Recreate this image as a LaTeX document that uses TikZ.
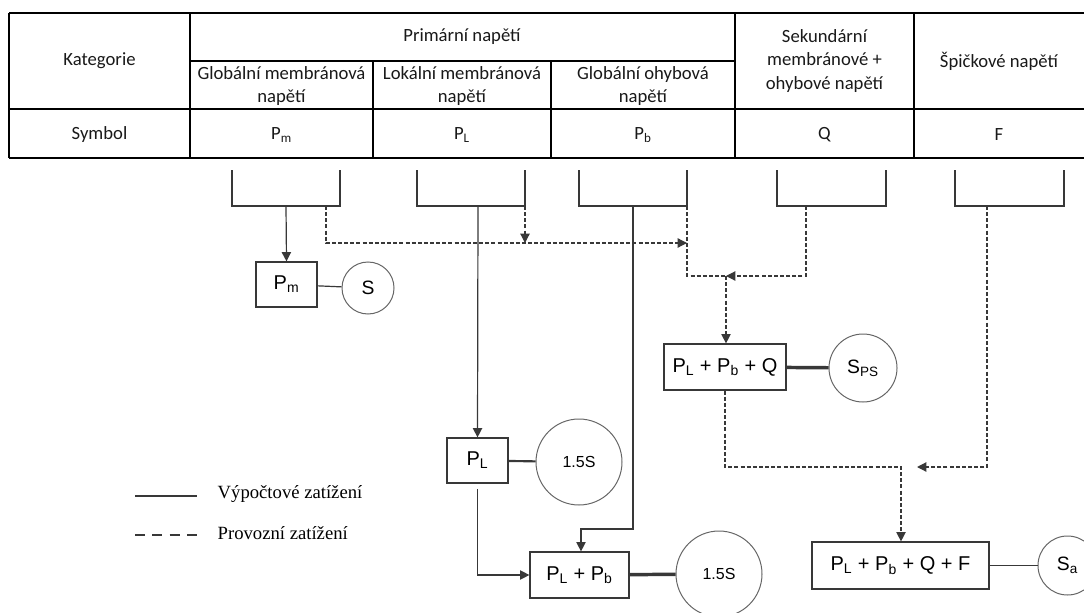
\documentclass[tikz,border=0pt]{standalone}
\usepackage{fontspec}
\newfontfamily\tabfont{Carlito}
\newfontfamily\boxfont{Liberation Sans}
\newfontfamily\legfont{Liberation Serif}
\usetikzlibrary{arrows.meta}
\tikzset{>={Triangle[width=7pt,length=7pt]},
  design/.style={draw=black!78, line width=0.9pt},
  service/.style={design, dash pattern=on 3pt off 1.6pt},
  blk/.style 2 args={draw=black!78, line width=0.9pt, inner sep=0pt,
    minimum width=#1*0.75pt, minimum height=#2*0.75pt,
    font=\boxfont\fontsize{15}{17}\selectfont},
  ring/.style={circle, draw=black!60, line width=0.75pt, inner sep=0pt,
    minimum size=#1*0.75pt, font=\boxfont\fontsize{12}{14}\selectfont},
  bigtext/.style={font=\boxfont\fontsize{14.5}{17}\selectfont},
  cell/.style={font=\tabfont\fontsize{14}{17.5}\selectfont, align=center, text=black!90},
  tabline/.style={line width=1.1pt}}

\begin{document}
\begin{tikzpicture}[x=0.75pt, y=-0.75pt]
  \useasboundingbox (0,0) rectangle (1084,613);

  % table
  \draw [tabline] (9,13) -- (1084,13);
  \draw [tabline] (190,61) -- (735,61);
  \draw [tabline] (9,109) -- (1084,109);
  \draw [tabline] (9,158) -- (1084,158);
  \draw [tabline] (9,13) -- (9,158);
  \draw [tabline] (190,13) -- (190,158);
  \draw [tabline] (373,61) -- (373,158);
  \draw [tabline] (551,61) -- (551,158);
  \draw [tabline] (735,13) -- (735,158);
  \draw [tabline] (914,13) -- (914,158);

  \node [cell] (kat) at (99.5,61) {Kategorie};
  \node [cell] (prim) at (462,37) {Primární napětí};
  \node [cell] (glm) at (281.5,86) {Globální membránová\\napětí};
  \node [cell] (lom) at (462,86) {Lokální membránová\\napětí};
  \node [cell] (glo) at (643,86) {Globální ohybová\\napětí};
  \node [cell] (sek) at (824.5,61) {Sekundární\\membránové +\\ohybové napětí};
  \node [cell] (spi) at (999,61) {Špičkové napětí};
  \node [cell] (sym) at (99.5,135) {Symbol};
  \node [cell] (ypm) at (281.5,135) {P\textsubscript{m}};
  \node [cell] (ypl) at (462,135) {P\textsubscript{L}};
  \node [cell] (ypb) at (643,135) {P\textsubscript{b}};
  \node [cell] (yq) at (824.5,135) {Q};
  \node [cell] (yf) at (999,135) {F};

  % brackets under the columns
  \draw [design] (232,170) |- (340,206) -- (340,170);
  \draw [design] (417,170) |- (525,206) -- (525,170);
  \draw [design] (579,170) |- (687,206) -- (687,170);
  \draw [design] (777,170) |- (886,206) -- (886,170);
  \draw [design] (955,170) |- (1064,206) -- (1064,170);

  \coordinate (t1) at (286,206);
  \coordinate (t2) at (478,206);
  \coordinate (t3) at (633,206);
  \coordinate (t4) at (806,206);
  \coordinate (t5) at (987,206);
  \coordinate (d1) at (326,206);
  \coordinate (d2) at (525,206);
  \coordinate (d3) at (687,206);
  \coordinate (j1) at (687,243);
  \coordinate (j2) at (726,276);
  \coordinate (jb) at (581,529);
  \coordinate (j3) at (901,467);
  \coordinate (j4) at (917,467);

  % boxes and limits
  \node [blk={61}{45}] (pm) at (286.5,284.5) {P\textsubscript{m}};
  \node [ring=52, bigtext] (s1) at (368,288) {S};
  \node [blk={61}{45}] (pl) at (477.5,460.5) {P\textsubscript{L}};
  \node [ring=86] (s2) at (579,462) {1.5S};
  \node [blk={99}{46}] (plpb) at (579.5,575) {P\textsubscript{L} + P\textsubscript{b}};
  \node [ring=86] (s3) at (719,574) {1.5S};
  \node [blk={122}{46}] (plpbq) at (725,367) {P\textsubscript{L} + P\textsubscript{b} + Q};
  \node [ring=68, bigtext] (sps) at (863,368) {S\textsubscript{PS}};
  \node [blk={177}{47}] (plpbqf) at (900.5,565.5) {P\textsubscript{L} + P\textsubscript{b} + Q + F};
  \node [ring=59, bigtext] (sa) at (1067.5,565.5) {S\textsubscript{a}};

  % solid flow
  \draw [design,->] (t1) -- (pm.north);
  \draw [design,->] (t2) -- (pl.north);
  \draw [design,->,shorten <=4pt] (pl.south) |- (plpb.west);
  \draw [design,->] (t3) |- (jb) -- (jb |- plpb.north);

  % dashed flow
  \draw [service,->] (d1) |- (j1);
  \draw [service,->] (d2) -- (d2 |- j1);
  \draw [service] (d3) |- (j2);
  \draw [service,->] (t4) |- (j2);
  \draw [service,->] (j2) -- (j2 |- plpbq.north);
  \draw [service,->] (plpbq.south) |- (j3) -- (j3 |- plpbqf.north);
  \draw [service,->] (t5) |- (j4);

  % links to limits
  \draw [design] (pm) -- (s1);
  \draw [design, line width=1.6pt] (pl) -- (s2);
  \draw [design, line width=2.6pt] (plpb) -- (s3);
  \draw [design, line width=2.6pt] (plpbq) -- (sps);
  \draw [design] (plpbqf) -- (sa);

  % legend
  \draw [design] (135,496) -- (197,496);
  \draw [design, dash pattern=on 7.5pt off 5.5pt] (135,535) -- (197,535);
  \node [anchor=west, font=\legfont\fontsize{14}{16}\selectfont] (lg1) at (213,494) {Výpočtové zatížení};
  \node [anchor=west, font=\legfont\fontsize{14}{16}\selectfont] (lg2) at (213,533) {Provozní zatížení};

\end{tikzpicture}
\end{document}
